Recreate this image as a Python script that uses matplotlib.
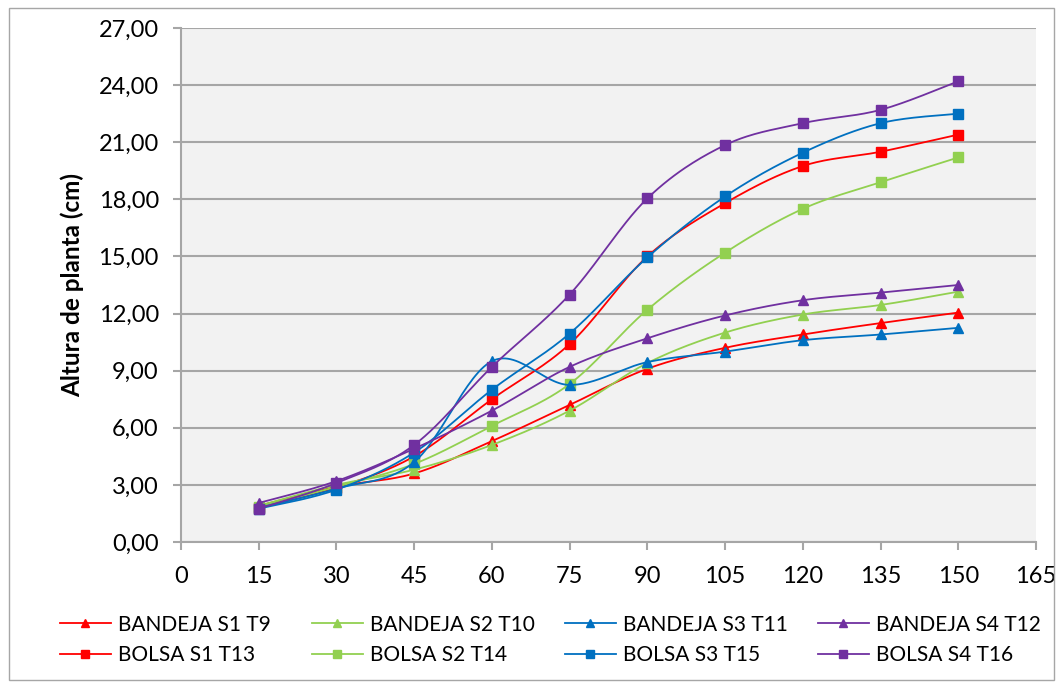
import matplotlib.pyplot as plt
import numpy as np
from matplotlib.patches import Rectangle

plt.rcParams["font.family"] = ["Lato", "DejaVu Sans"]

dias = [15, 30, 45, 60, 75, 90, 105, 120, 135, 150]

bandeja_s1 = [1.9, 2.9, 3.6, 5.3, 7.2, 9.1, 10.2, 10.9, 11.5, 12.05]
bandeja_s2 = [1.9, 3.0, 3.8, 5.1, 6.9, 9.4, 11.0, 11.95, 12.45, 13.15]
bandeja_s3 = [1.8, 2.8, 4.2, 9.5, 8.25, 9.45, 10.0, 10.6, 10.9, 11.25]
bandeja_s4 = [2.05, 3.2, 4.9, 6.9, 9.2, 10.7, 11.9, 12.7, 13.1, 13.5]
bolsa_s1 = [1.8, 2.85, 4.5, 7.5, 10.4, 15.0, 17.8, 19.75, 20.5, 21.4]
bolsa_s2 = [1.85, 2.9, 4.1, 6.1, 8.3, 12.2, 15.2, 17.5, 18.9, 20.2]
bolsa_s3 = [1.75, 2.75, 4.7, 8.0, 10.95, 14.95, 18.15, 20.45, 22.0, 22.5]
bolsa_s4 = [1.75, 3.1, 5.1, 9.2, 13.0, 18.05, 20.85, 22.0, 22.7, 24.2]

# one legend column per substrate: (label, values, colour, marker)
columnas = [
    [("BANDEJA S1 T9", bandeja_s1, "#FF0000", "^"), ("BOLSA S1 T13", bolsa_s1, "#FF0000", "s")],
    [("BANDEJA S2 T10", bandeja_s2, "#92D050", "^"), ("BOLSA S2 T14", bolsa_s2, "#92D050", "s")],
    [("BANDEJA S3 T11", bandeja_s3, "#0070C0", "^"), ("BOLSA S3 T15", bolsa_s3, "#0070C0", "s")],
    [("BANDEJA S4 T12", bandeja_s4, "#7030A0", "^"), ("BOLSA S4 T16", bolsa_s4, "#7030A0", "s")],
]


def smooth(x, y, n=30):
    # Excel-style smoothed line: cubic Bezier with Catmull-Rom control points
    p = np.column_stack([x, y]).astype(float)
    pts = [p[0]]
    for i in range(len(p) - 1):
        p0 = p[i - 1] if i > 0 else p[i]
        p3 = p[i + 2] if i + 2 < len(p) else p[i + 1]
        c1 = p[i] + (p[i + 1] - p0) / 6
        c2 = p[i + 1] - (p3 - p[i]) / 6
        t = np.linspace(0, 1, n)[1:, None]
        seg = ((1 - t) ** 3) * p[i] + 3 * ((1 - t) ** 2) * t * c1 + 3 * (1 - t) * t ** 2 * c2 + t ** 3 * p[i + 1]
        pts.extend(seg)
    pts = np.array(pts)
    return pts[:, 0], pts[:, 1]


fig = plt.figure(figsize=(10.62, 6.84), dpi=100)
ax = fig.add_axes([181 / 1062, 1 - 542 / 684, (1036 - 181) / 1062, (542 - 28) / 684])
ax.set_facecolor("#F2F2F2")

legend_x = [41, 293, 546, 799]
for col, x0 in zip(columnas, legend_x):
    handles = []
    for label, vals, color, marker in col:
        sx, sy = smooth(dias, vals)
        ax.plot(sx, sy, color=color, lw=1.3)
        ax.plot(dias, vals, ls="none", marker=marker, color=color, ms=7.5 if marker == "^" else 7)
        (h,) = ax.plot([], [], color=color, lw=1.3, marker=marker, ms=6, label=label)
        handles.append(h)
    fig.legend(handles=handles, loc="upper left", bbox_to_anchor=(x0 / 1062, 1 - 596 / 684),
               frameon=False, fontsize=15, handlelength=2.45, labelspacing=0.5, handletextpad=0.35)

ax.set_xlim(0, 165)
ax.set_ylim(0, 27)
ax.set_xticks(np.arange(0, 166, 15))
ax.set_yticks(np.arange(0, 28, 3))
ax.set_yticklabels(["{:.2f}".format(v).replace(".", ",") for v in np.arange(0, 28, 3)])
ax.grid(axis="y", color="#A6A6A6", lw=1.5)
ax.set_axisbelow(True)
for side in ["top", "right"]:
    ax.spines[side].set_visible(False)
for side in ["left", "bottom"]:
    ax.spines[side].set_color("#A6A6A6")
    ax.spines[side].set_linewidth(1.5)
ax.tick_params(axis="both", colors="#A6A6A6", labelcolor="black", labelsize=17, length=6, width=1.5)
ax.tick_params(axis="y", pad=10)
ax.tick_params(axis="x", pad=11)
ax.set_ylabel("Altura de planta (cm)", fontsize=17.5, fontweight="bold", labelpad=10)

fig.patches.append(Rectangle((9 / 1062, 4 / 684), 1045 / 1062, 672 / 684, transform=fig.transFigure,
                             fill=False, edgecolor="#A6A6A6", lw=1))

fig.savefig("out.png", dpi=100)
